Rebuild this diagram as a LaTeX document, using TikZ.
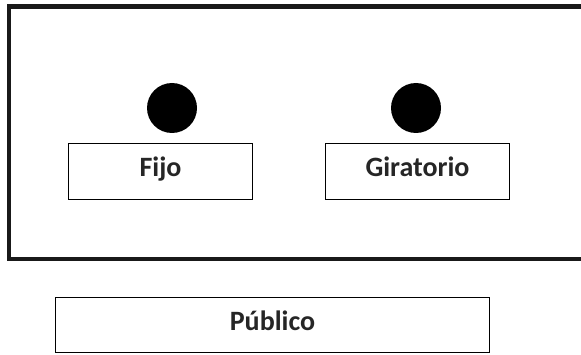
\documentclass[tikz,border=0pt]{standalone}
\usepackage{fontspec}
\setmainfont{Carlito}
\begin{document}
\begin{tikzpicture}[x=1pt,y=1pt,
  labelbox/.style={draw=black, line width=1.6pt, inner sep=0pt, minimum height=56pt,
     font=\fontsize{28}{30}\selectfont\bfseries, text=black!85, text height=18.2pt, text depth=7.3pt},
  dot/.style={circle, fill=black, inner sep=0pt, minimum size=50pt}]
\clip (0,0) rectangle (581,354);
\useasboundingbox (0,0) rectangle (581,354);
\fill[white] (0,0) rectangle (581,354);
\draw[line width=4.5pt, draw=black!90] (9,95) rectangle (600,347.5);
\node[dot] (d1) at (172,246) {};
\node[dot] (d2) at (416,246) {};
\node[labelbox, minimum width=184pt] (fijo) at (160.5,182.5) {Fijo};
\node[labelbox, minimum width=184pt] (gir) at (417.5,182.5) {Giratorio};
\node[labelbox, minimum width=434pt, minimum height=55pt] (pub) at (272.5,29) {Público};
\end{tikzpicture}
\end{document}
